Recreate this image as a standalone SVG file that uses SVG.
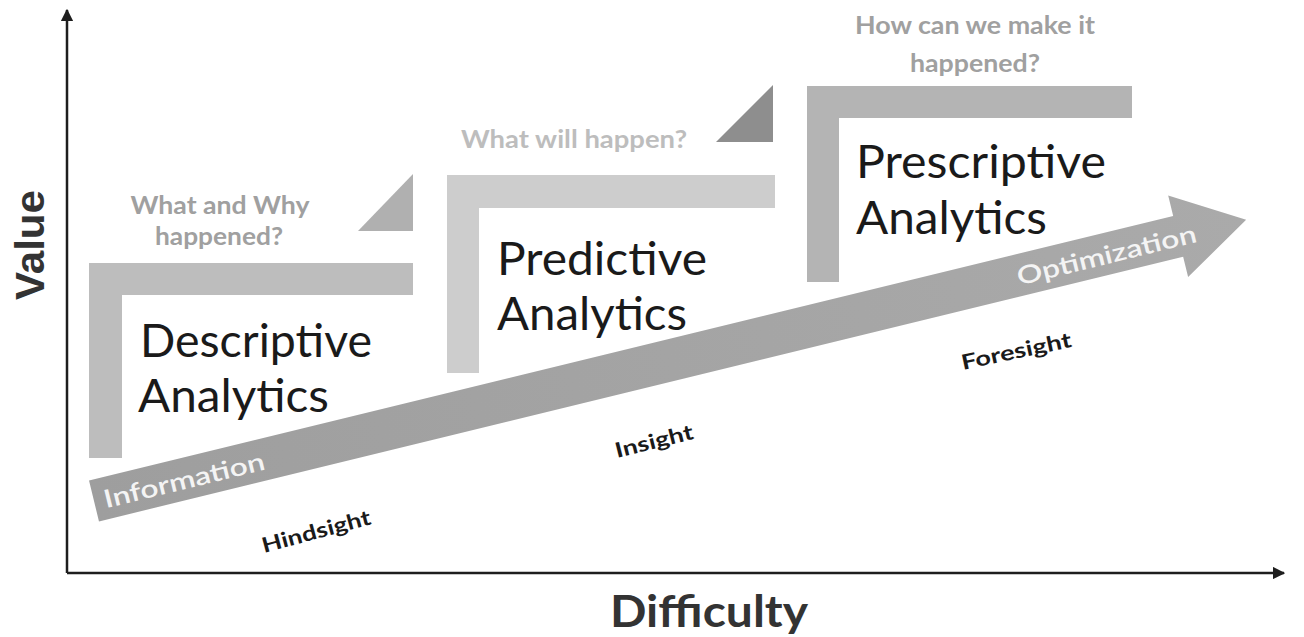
<svg xmlns="http://www.w3.org/2000/svg" width="1304" height="637" viewBox="0 0 1304 637">
  <defs>
    <marker id="axisHead" viewBox="0 0 10 10" refX="9" refY="5" markerWidth="5" markerHeight="5" orient="auto" markerUnits="strokeWidth">
      <path d="M0,0 L10,5 L0,10 Z" fill="#1e1e1e"/>
    </marker>
    <linearGradient id="trendFill" x1="0" y1="0" x2="1" y2="0">
      <stop offset="0" stop-color="#9e9e9e"/>
      <stop offset="1" stop-color="#aaaaaa"/>
    </linearGradient>
  </defs>
  <style>
    .axis { stroke: #1e1e1e; stroke-width: 2.5; fill: none; }
    .axis-label { font-family: "Liberation Sans", Arial, sans-serif; font-weight: bold; fill: #333333; }
    .stage { font-family: Lato, "Open Sans", sans-serif; font-size: 46px; fill: #1a1a1a; }
    .question { font-family: Lato, "Open Sans", sans-serif; font-weight: bold; font-size: 25px; text-anchor: middle; }
    .on-arrow { font-family: Lato, "Open Sans", sans-serif; font-weight: 600; font-size: 25px; fill: #f4f4f4; }
    .sight { font-family: Lato, "Open Sans", sans-serif; font-weight: bold; font-size: 21px; fill: #1a1a1a; }
  </style>

  <rect width="1304" height="637" fill="#ffffff"/>

  <!-- axes -->
  <g id="connectors">
    <line class="axis" x1="67" y1="573" x2="67" y2="10" marker-end="url(#axisHead)"/>
    <line class="axis" x1="67" y1="573" x2="1284" y2="573" marker-end="url(#axisHead)"/>
  </g>
  <text class="axis-label" font-size="40" transform="translate(44,300) rotate(-90)" textLength="110" lengthAdjust="spacingAndGlyphs">Value</text>
  <text class="axis-label" x="610" y="627" font-size="44" textLength="198" lengthAdjust="spacingAndGlyphs" style="font-family: Lato, 'Open Sans', sans-serif">Difficulty</text>

  <!-- stage 1 -->
  <g id="descriptive">
    <path d="M89,263 H413 V295 H122 V458 H89 Z" fill="#bdbdbd"/>
    <path d="M358,231 L413,174 V231 Z" fill="#b0b0b0"/>
    <text class="question" fill="#a0a0a0" x="220" y="214" textLength="179" lengthAdjust="spacingAndGlyphs">What and Why</text>
    <text class="question" fill="#a0a0a0" x="219" y="245" textLength="128" lengthAdjust="spacingAndGlyphs">happened?</text>
    <text class="stage" x="140" y="357" textLength="232" lengthAdjust="spacingAndGlyphs">Descriptive</text>
    <text class="stage" x="138" y="412" textLength="191" lengthAdjust="spacingAndGlyphs">Analytics</text>
  </g>

  <!-- stage 2 -->
  <g id="predictive">
    <path d="M447,175 H775 V208 H479 V373 H447 Z" fill="#cdcdcd"/>
    <path d="M716,142 L773,85 V142 Z" fill="#8e8e8e"/>
    <text class="question" fill="#bdbdbd" x="574" y="148" textLength="226" lengthAdjust="spacingAndGlyphs">What will happen?</text>
    <text class="stage" x="497" y="275" textLength="210" lengthAdjust="spacingAndGlyphs">Predictive</text>
    <text class="stage" x="497" y="330" textLength="190" lengthAdjust="spacingAndGlyphs">Analytics</text>
  </g>

  <!-- stage 3 -->
  <g id="prescriptive">
    <path d="M807,86 H1132 V118 H839 V282 H807 Z" fill="#b4b4b4"/>
    <text class="question" fill="#a0a0a0" x="975" y="34" textLength="240" lengthAdjust="spacingAndGlyphs">How can we make it</text>
    <text class="question" fill="#a0a0a0" x="975" y="72" textLength="130" lengthAdjust="spacingAndGlyphs">happened?</text>
    <text class="stage" x="856" y="178" textLength="250" lengthAdjust="spacingAndGlyphs">Prescriptive</text>
    <text class="stage" x="856" y="234" textLength="191" lengthAdjust="spacingAndGlyphs">Analytics</text>
  </g>

  <!-- rising trend arrow -->
  <g id="trend" transform="translate(94,501) rotate(-13.72)">
    <path d="M0,-21 H1116 V-42 L1186,0 L1116,42 V21 H0 Z" fill="url(#trendFill)"/>
    <text class="on-arrow" x="10" y="10" textLength="165" lengthAdjust="spacingAndGlyphs">Information</text>
    <text class="on-arrow" x="950" y="10" textLength="184" lengthAdjust="spacingAndGlyphs">Optimization</text>
  </g>

  <!-- stage outcomes -->
  <g id="outcomes">
    <text class="sight" transform="translate(264,553) rotate(-15)" textLength="112" lengthAdjust="spacingAndGlyphs">Hindsight</text>
    <text class="sight" transform="translate(617,458) rotate(-14)" textLength="80" lengthAdjust="spacingAndGlyphs">Insight</text>
    <text class="sight" transform="translate(963,370) rotate(-12)" textLength="112" lengthAdjust="spacingAndGlyphs">Foresight</text>
  </g>
</svg>
